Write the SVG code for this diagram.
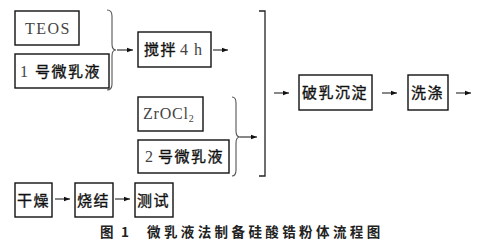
<svg xmlns="http://www.w3.org/2000/svg" width="480" height="242" viewBox="0 0 480 242">
<style>
.box{fill:#fff;stroke:#111;stroke-width:1.4}
.cjk{font-family:"Noto Sans CJK SC","Noto Sans",sans-serif;font-size:15px;fill:#111;stroke:#111;stroke-width:0.35;letter-spacing:1.5px}
.lat{font-family:"Liberation Serif",serif;font-size:16px;fill:#444;stroke:none}
.brace{fill:none;stroke:#555;stroke-width:1.1}
.arr{stroke:#111;stroke-width:1}
.cap{font-family:"Noto Sans CJK SC",sans-serif;font-size:13.5px;font-weight:bold;fill:#222;letter-spacing:3.4px}
</style>
<defs>
<marker id="ah" viewBox="0 0 6 6" refX="6" refY="3" markerWidth="6" markerHeight="6" markerUnits="userSpaceOnUse" orient="auto">
<path d="M0,0.8 L6,3 L0,5.2 z" fill="#111"/>
</marker>
</defs>
<rect width="480" height="242" fill="#fff"/>
<g id="teos"><rect class="box" x="15" y="11" width="64" height="34"/><text class="lat" x="25" y="34" letter-spacing="1.5">TEOS</text></g>
<g id="mic1"><rect class="box" x="15" y="54" width="94" height="34"/><text class="cjk" x="20" y="77"><tspan class="lat" style="font-size:16px">1</tspan><tspan x="35">号微乳液</tspan></text></g>
<g id="stir"><rect class="box" x="138" y="32" width="73" height="35"/><text class="cjk" x="144" y="55">搅拌<tspan class="lat" x="180">4</tspan><tspan class="lat" x="194">h</tspan></text></g>
<g id="zr"><rect class="box" x="138" y="97" width="65" height="34"/><text class="lat" x="143" y="119" letter-spacing="0.8">ZrOCl<tspan font-size="10" dy="3">2</tspan></text></g>
<g id="mic2"><rect class="box" x="138" y="140" width="91" height="33"/><text class="cjk" x="145" y="162"><tspan class="lat">2</tspan><tspan x="158">号微乳液</tspan></text></g>
<g id="demuls"><rect class="box" x="299" y="75" width="73" height="35"/><text class="cjk" x="302" y="98">破乳沉淀</text></g>
<g id="wash"><rect class="box" x="408" y="75" width="40" height="35"/><text class="cjk" x="411" y="98">洗涤</text></g>
<g id="dry"><rect class="box" x="15" y="183" width="37" height="34"/><text class="cjk" x="17" y="206">干燥</text></g>
<g id="sinter"><rect class="box" x="75" y="183" width="38" height="34"/><text class="cjk" x="77" y="206">烧结</text></g>
<g id="test"><rect class="box" x="135" y="183" width="38" height="34"/><text class="cjk" x="137" y="206">测试</text></g>
<g id="connectors">
<path class="brace" d="M107,10 Q112,10 112,16 V44 Q112,50 116,50 Q112,50 112,56 V84 Q112,90 107,90"/>
<path class="brace" d="M232,97 Q236,97 236,103 V131 Q236,137 240,137 Q236,137 236,143 V170 Q236,176 232,176"/>
<path d="M259,11 H265 V176 H259" fill="none" stroke="#222" stroke-width="1.3"/>
<line class="arr" x1="117" y1="50" x2="133" y2="50" marker-end="url(#ah)"/>
<line class="arr" x1="213" y1="50" x2="228" y2="50" marker-end="url(#ah)"/>
<line class="arr" x1="240" y1="137" x2="257" y2="137" marker-end="url(#ah)"/>
<line class="arr" x1="274" y1="93" x2="289" y2="93" marker-end="url(#ah)"/>
<line class="arr" x1="382" y1="93" x2="397" y2="93" marker-end="url(#ah)"/>
<line class="arr" x1="456" y1="93" x2="471" y2="93" marker-end="url(#ah)"/>
<line class="arr" x1="55" y1="199" x2="70" y2="199" marker-end="url(#ah)"/>
<line class="arr" x1="115" y1="199" x2="130" y2="199" marker-end="url(#ah)"/>
</g>
<text class="cap" x="100" y="237">图<tspan x="121">1</tspan><tspan x="147">微乳液法制备硅酸锆粉体流程图</tspan></text>
</svg>
